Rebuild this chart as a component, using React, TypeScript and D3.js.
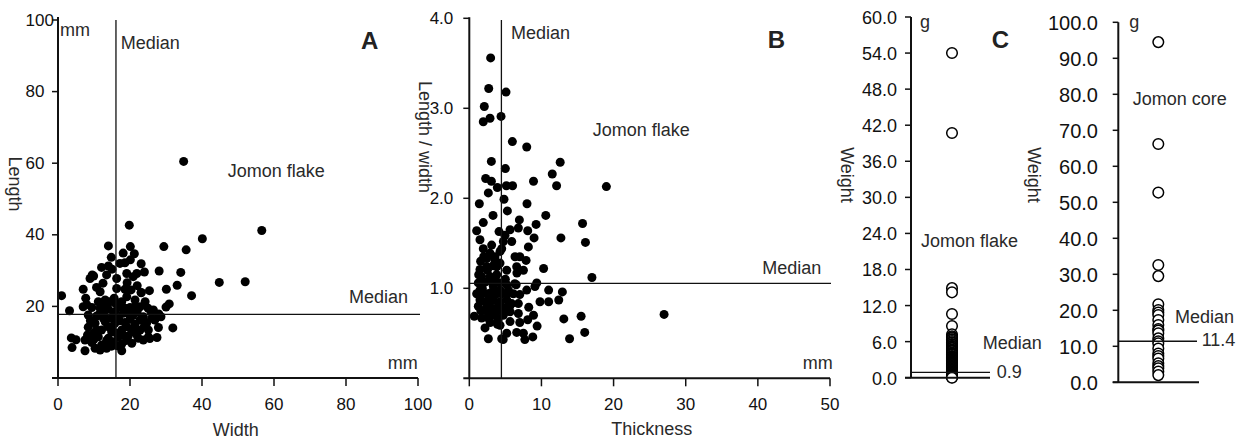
import React from "react";
import * as d3 from "d3";

// ---------- Panel A: Width vs Length (mm) ----------
const widthA = [34.9,56.6,19.8,40.1,35.6,29.4,14.0,20.1,21.2,14.8,18.1,20.1,23.1,34.1,28.1,44.8,52.0,33.1,37.1,30.1,30.9,30.0,31.9,27.9,1.0,3.2,3.7,5.0,3.9,7.5,17.7,25.4,23.1,
  17.2,12.1,14.0,18.6,13.5,9.5,8.9,19.1,21.9,20.9,16.3,10.7,7.0,16.3,18.6,20.3,23.1,11.7,7.7,13.1,15.6,17.7,21.4,24.2,7.0,9.4,11.7,14.0,20.0,22.8,26.5,28.6,8.4,10.7,12.6,15.4,18.1,20.9,23.7,26.0,10.3,13.1,15.8,18.6,21.4,24.6,8.4,12.1,14.9,17.7,20.5,22.8,25.1,11.2,14.0,16.8,19.5,22.3,25.1,7.5,9.4,12.1,14.9,17.7,20.5,10.3,13.5,11.7,15.8,16.8,14.0,19.1,16.8,14.4,19.1,11.2,11.7,13.5,21.4,18.6,14.9,20.0,22.8,12.6,10.7,16.3,21.9,23.7,15.4,26.9,
  9.9,15.0,24.0,22.0,12.5,19.2,25.8,28.0,8.2,10.0,27.5,25.5,
  13.0,15.0,17.0,19.5,12.0,16.0,18.0,21.0,24.0,10.0,13.5,16.5,19.0,9.0,8.0,22.0,25.0];
const lengthA = [60.5,41.2,42.7,38.9,35.8,36.7,36.9,36.7,34.7,33.7,34.9,33.0,31.9,29.5,29.9,26.7,26.9,25.9,23.0,24.8,20.7,19.8,14.0,14.1,23.0,18.8,11.2,10.7,8.5,7.6,7.6,24.4,23.9,
  32.0,30.9,31.3,32.2,28.8,28.8,27.8,29.2,29.2,28.3,27.8,25.3,24.8,25.0,24.8,24.6,23.8,24.1,22.3,21.8,22.3,21.3,21.8,21.3,19.9,19.7,19.5,19.2,19.7,19.9,19.0,17.1,17.6,17.3,18.1,17.6,18.1,17.6,17.1,16.7,15.3,15.7,15.3,15.5,15.1,15.3,14.2,13.4,12.9,13.4,12.9,13.4,13.4,11.5,11.1,11.5,11.7,11.1,11.5,10.6,9.9,9.2,8.9,9.5,9.7,8.3,8.3,7.8,18.5,16.7,14.3,14.3,19.9,21.3,22.7,21.3,18.1,19.9,19.9,19.5,16.7,16.4,16.2,16.7,13.4,12.5,12.0,10.6,10.1,16.2,
  28.5,30.4,29.6,25.8,26.5,26.6,18.6,17.9,12.0,10.8,11.3,11.0,
  17.0,14.0,16.0,18.0,20.5,20.8,12.0,14.0,14.5,12.5,10.5,9.0,10.5,16.0,20.5,18.5,19.5];
const ticksAx = [0, 20, 40, 60, 80, 100];
const ticksAy = [20, 40, 60, 80, 100];
const medianWidthA = 16.1;
const medianLengthA = 17.8;

// ---------- Panel B: Thickness vs Length/width ----------
const thickB = [2.96,2.69,5.09,2.08,1.94,2.87,4.40,5.97,7.96,3.06,12.6,11.5,5.0,2.27,3.06,3.89,5.14,6.0,8.9,12.1,19.0,2.64,4.81,1.39,8.0,5.28,3.29,10.6,1.94,6.94,9.26,15.7,1.02,4.12,5.65,8.1,4.95,6.8,8.98,12.7,16.1,1.48,1.94,3.1,4.49,5.88,8.19,7.0,6.34,7.87,1.57,2.41,3.56,5.19,10.3,17.0,6.57,7.5,6.6,1.48,2.87,3.8,9.35,9.1,11.0,12.9,7.96,7.0,6.5,9.8,11.0,12.4,8.24,6.8,6.8,5.65,8.9,8.1,13.1,15.5,9.4,27.0,0.69,2.64,4.0,5.65,7.0,2.18,4.26,6.57,7.5,16.0,13.9,8.8,7.7,5.19,4.49,2.64,4.7,
  1.48,2.41,3.33,4.26,5.19,1.48,2.41,3.33,4.26,5.19,1.25,2.18,3.1,4.03,4.95,1.25,2.18,3.1,4.26,5.19,1.71,3.8,4.26,3.56,2.87,2.41,4.26,4.72,1.48,2.64,3.56,4.72,3.8,2.87,5.42,6.11,5.88,1.71,4.49,1.02,
  1.8,2.2,3.0,3.6,4.0,1.6,2.5,3.3,5.0,2.0,1.3,3.9,2.9,6.3,5.6];
const ratioB = [3.56,3.22,3.18,3.02,2.85,2.89,2.91,2.63,2.57,2.41,2.40,2.27,2.33,2.22,2.19,2.12,2.14,2.14,2.19,2.14,2.13,2.06,1.99,1.94,1.94,1.86,1.81,1.81,1.73,1.76,1.71,1.72,1.64,1.63,1.65,1.64,1.59,1.67,1.56,1.56,1.51,1.54,1.44,1.48,1.44,1.52,1.46,1.35,1.35,1.31,1.30,1.24,1.35,1.20,1.22,1.12,1.24,1.20,1.17,1.21,1.13,1.15,1.06,1.02,0.98,0.96,0.98,0.93,1.04,0.85,0.85,0.87,0.79,0.83,0.72,0.74,0.70,0.65,0.66,0.69,0.58,0.71,0.69,0.67,0.65,0.63,0.62,0.56,0.59,0.51,0.50,0.51,0.44,0.46,0.43,0.50,0.44,0.44,0.43,
  0.98,0.94,1.02,0.98,0.94,0.87,0.83,0.87,0.85,0.87,0.80,0.76,0.78,0.76,0.78,1.06,1.07,1.07,1.06,1.04,1.13,1.24,1.28,1.31,1.39,1.33,1.41,1.52,0.91,0.72,0.70,0.70,0.94,0.91,0.98,0.94,0.83,0.67,0.94,0.94,
  1.0,0.85,0.95,1.1,0.8,0.75,1.2,1.25,1.1,1.35,1.15,0.6,0.62,1.05,0.8];
const ticksBx = [0, 10, 20, 30, 40, 50];
const ticksBy = [1, 2, 3, 4];
const medianThickB = 4.45;
const medianRatioB = 1.055;

// ---------- Panel C: Weight (g) ----------
const weightFlake = [54.0,40.7,14.9,14.2,10.6,8.6,7.2,6.9,6.7,6.6,6.4,6.3,6.1,5.9,5.8,5.6,5.5,5.3,5.2,5.0,4.9,4.7,4.6,4.5,4.4,4.2,4.1,4.0,3.9,3.8,3.6,3.5,3.4,3.3,3.2,3.1,3.0,2.9,2.8,2.7,2.6,2.5,2.4,2.3,2.2,2.1,2.0,1.9,1.8,1.7,1.6,1.5,1.4,1.3,1.2,1.1,1.0,0.9,0.9,0.8,0.7,0.6,0.5,0.5,0.4,0.3,0.3,0.2,0.2,0.1,0.1,0.0];
const weightCore = [94.5,66.2,52.7,32.6,29.5,21.7,20.1,19.4,18.7,17.3,15.9,14.8,14.4,13.6,12.2,11.4,10.8,9.4,8.0,7.3,6.6,5.3,4.5,3.9,3.0,2.0];
const ticksFlake = [0, 6, 12, 18, 24, 30, 36, 42, 48, 54, 60];
const ticksCore = [0, 10, 20, 30, 40, 50, 60, 70, 80, 90, 100];
const medianFlake = 0.9;
const medianCore = 11.4;

const FONT = "'Liberation Sans', Arial, Helvetica, sans-serif";
const INK = "#111";
const LABEL = "#2a2a2a";

export default function App() {
  const xA = d3.scaleLinear().domain([0, 100]).range([58, 418]);
  const yA = d3.scaleLinear().domain([0, 100]).range([378, 20]);
  const xB = d3.scaleLinear().domain([0, 50]).range([469.3, 830]);
  const yB = d3.scaleLinear().domain([0, 4]).range([378.3, 18.3]);
  const yF = d3.scaleLinear().domain([0, 60]).range([377.7, 17]);
  const yC = d3.scaleLinear().domain([0, 100]).range([382.3, 22.3]);
  const cxF = 952;
  const cxC = 1158.3;

  const txt = (x: number, y: number, s: string, opts: any = {}) => (
    <text
      x={x}
      y={y}
      fontFamily={FONT}
      fontSize={opts.size ?? 18}
      fontWeight={opts.bold ? "bold" : "normal"}
      fill={opts.fill ?? LABEL}
      textAnchor={opts.anchor ?? "start"}
      dominantBaseline="central"
      transform={opts.rotate ? `rotate(90 ${x} ${y})` : undefined}
    >
      {s}
    </text>
  );

  return (
    <svg
      width={1246}
      height={444}
      style={{ position: "absolute", left: 0, top: 0, background: "#fff" }}
    >
      <rect x={0} y={0} width={1246} height={444} fill="#fff" />

      {/* ===== Panel A ===== */}
      <g>
        {widthA.map((w, i) => (
          <circle key={i} cx={xA(w)} cy={yA(lengthA[i])} r={4.5} fill="#000" />
        ))}
        <line x1={xA(0)} x2={xA(0)} y1={yA(100) - 3} y2={yA(0)} stroke={INK} strokeWidth={2} />
        <line x1={xA(0) - 6} x2={xA(100)} y1={yA(0)} y2={yA(0)} stroke={INK} strokeWidth={2} />
        {ticksAy.map((t) => (
          <g key={t}>
            <line x1={xA(0) - 6} x2={xA(0)} y1={yA(t)} y2={yA(t)} stroke={INK} strokeWidth={1.5} />
            {txt(25.5, yA(t), String(t), { size: 17, fill: INK })}
          </g>
        ))}
        {ticksAx.map((t) => (
          <g key={t}>
            <line x1={xA(t)} x2={xA(t)} y1={yA(0)} y2={yA(0) + 8} stroke={INK} strokeWidth={1.5} />
            {txt(xA(t), 404, String(t), { size: 17, fill: INK, anchor: "middle" })}
          </g>
        ))}
        <line x1={xA(medianWidthA)} x2={xA(medianWidthA)} y1={yA(100)} y2={yA(0)} stroke={INK} strokeWidth={1.3} />
        <line x1={xA(0)} x2={420} y1={yA(medianLengthA)} y2={yA(medianLengthA)} stroke={INK} strokeWidth={1.3} />
        {txt(60, 30, "mm")}
        {txt(120.7, 42.7, "Median")}
        {txt(361, 40.7, "A", { size: 24, bold: true, fill: "#222" })}
        {txt(227.7, 171, "Jomon flake")}
        {txt(349, 297.3, "Median")}
        {txt(387.7, 363.3, "mm")}
        {txt(235.7, 430, "Width", { anchor: "middle" })}
        {txt(15, 184, "Length", { anchor: "middle", rotate: true })}
      </g>

      {/* ===== Panel B ===== */}
      <g>
        {thickB.map((t, i) => (
          <circle key={i} cx={xB(t)} cy={yB(ratioB[i])} r={4.5} fill="#000" />
        ))}
        <line x1={xB(0)} x2={xB(0)} y1={yB(4) - 1} y2={yB(0)} stroke={INK} strokeWidth={2} />
        <line x1={xB(0) - 6} x2={xB(50)} y1={yB(0)} y2={yB(0)} stroke={INK} strokeWidth={2} />
        {ticksBy.map((t) => (
          <g key={t}>
            <line x1={xB(0) - 6} x2={xB(0)} y1={yB(t)} y2={yB(t)} stroke={INK} strokeWidth={1.5} />
            {txt(453.3, yB(t), d3.format(".1f")(t), { size: 17, fill: INK, anchor: "end" })}
          </g>
        ))}
        {ticksBx.map((t) => (
          <g key={t}>
            <line x1={xB(t)} x2={xB(t)} y1={yB(0)} y2={yB(0) + 8} stroke={INK} strokeWidth={1.5} />
            {txt(xB(t), 404, String(t), { size: 17, fill: INK, anchor: "middle" })}
          </g>
        ))}
        <line x1={xB(medianThickB)} x2={xB(medianThickB)} y1={20} y2={yB(0)} stroke={INK} strokeWidth={1.3} />
        <line x1={xB(0)} x2={831} y1={yB(medianRatioB)} y2={yB(medianRatioB)} stroke={INK} strokeWidth={1.3} />
        {txt(511, 32.7, "Median")}
        {txt(767.7, 39.3, "B", { size: 24, bold: true, fill: "#222" })}
        {txt(592.7, 130, "Jomon flake")}
        {txt(762.3, 268.3, "Median")}
        {txt(802.7, 363.3, "mm")}
        {txt(651.7, 429, "Thickness", { anchor: "middle" })}
        {txt(425, 137, "Length / width", { anchor: "middle", rotate: true })}
      </g>

      {/* ===== Panel C: flake ===== */}
      <g>
        {weightFlake.map((w, i) => (
          <circle key={i} cx={cxF} cy={yF(w)} r={5.3} fill="#fff" stroke="#000" strokeWidth={1.5} />
        ))}
        <line x1={911} x2={911} y1={yF(60)} y2={yF(0)} stroke={INK} strokeWidth={2} />
        <line x1={905} x2={990} y1={yF(0)} y2={yF(0)} stroke={INK} strokeWidth={2} />
        <line x1={911} x2={990} y1={yF(medianFlake)} y2={yF(medianFlake)} stroke={INK} strokeWidth={1.3} />
        {ticksFlake.map((t) => (
          <g key={t}>
            <line x1={905} x2={911} y1={yF(t)} y2={yF(t)} stroke={INK} strokeWidth={1.5} />
            {txt(897, yF(t) + 1, d3.format(".1f")(t), { size: 18, fill: INK, anchor: "end" })}
          </g>
        ))}
        {txt(920, 21.7, "g")}
        {txt(991.7, 39.3, "C", { size: 24, bold: true, fill: "#222" })}
        {txt(921, 240.7, "Jomon flake")}
        {txt(982.7, 343.3, "Median")}
        {txt(996.7, 372, "0.9")}
        {txt(847, 175, "Weight", { anchor: "middle", rotate: true })}
      </g>

      {/* ===== Panel C: core ===== */}
      <g>
        {weightCore.map((w, i) => (
          <circle key={i} cx={cxC} cy={yC(w)} r={5.3} fill="#fff" stroke="#000" strokeWidth={1.5} />
        ))}
        <line x1={1118.3} x2={1118.3} y1={yC(100)} y2={yC(0)} stroke={INK} strokeWidth={2} />
        <line x1={1112.7} x2={1199} y1={yC(0)} y2={yC(0)} stroke={INK} strokeWidth={2} />
        <line x1={1118.3} x2={1197} y1={yC(medianCore)} y2={yC(medianCore)} stroke={INK} strokeWidth={1.6} />
        {ticksCore.map((t) => (
          <g key={t}>
            <line x1={1112.7} x2={1118.3} y1={yC(t)} y2={yC(t)} stroke={INK} strokeWidth={1.5} />
            {txt(1098, yC(t) + 1, d3.format(".1f")(t), { size: 20, fill: INK, anchor: "end" })}
          </g>
        ))}
        {txt(1129.3, 22, "g")}
        {txt(1132.7, 99.3, "Jomon core")}
        {txt(1175, 316.7, "Median")}
        {txt(1201.7, 340, "11.4")}
        {txt(1034, 175, "Weight", { anchor: "middle", rotate: true })}
      </g>
    </svg>
  );
}
